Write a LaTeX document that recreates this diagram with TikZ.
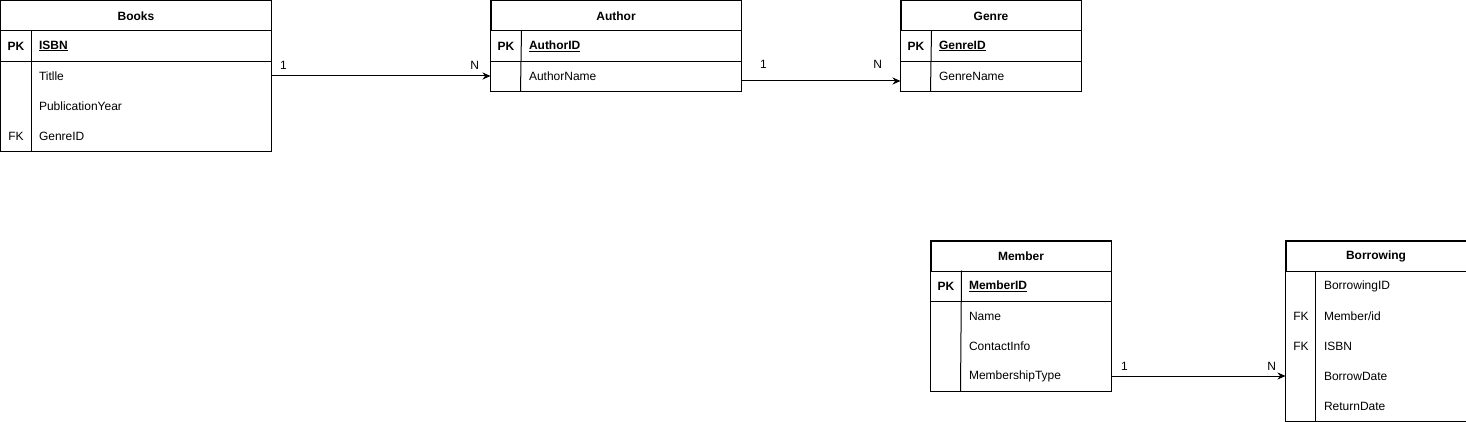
\documentclass[tikz,border=0pt]{standalone}
\usepackage{fontspec}
\setmainfont{Liberation Sans}
\usetikzlibrary{arrows.meta,positioning}
\newcommand\erfont{\fontsize{12}{14}\selectfont}

\tikzset{
  tbltitle/.style={draw,anchor=north west,minimum height=30pt,inner sep=0pt,font=\erfont\bfseries},
  keycell/.style={anchor=north west,minimum width=30pt,minimum height=30pt,inner sep=0pt},
  fieldcell/.style={anchor=north west,minimum height=30pt,inner xsep=8pt,inner ysep=0pt,align=left},
  rel/.style={-{Stealth[length=8pt,width=7pt]}},
  card/.style={inner sep=0pt}
}

\begin{document}
\begin{tikzpicture}[x=1pt,y=-1pt,line width=1pt,font=\erfont]
    \useasboundingbox (-0.5,-0.5) rectangle (1465.5,421.5);
    % Books
    \node[tbltitle,minimum width=270pt] (books) at (0,0){Books};
    \node[keycell] (books-pk) at (0,30){\textbf{PK}};
    \node[fieldcell,text width=224pt] (books-id) at (30,30){\underline{\textbf{ISBN}}};
    \foreach \f [count=\i] in {Titlle,PublicationYear,GenreID}{\node[fieldcell,text width=224pt] (books-f\i) at (30,30+30*\i){\f};}
    \node[keycell] (books-fk) at (0,120){FK};
    \draw (books.north west) rectangle (books-f3.south east);
    \draw (books-pk.south west)--(books-id.south east);
    \draw (books-pk.north east)--(books-fk.south east);
    % Author
    \node[tbltitle,minimum width=250pt] (author) at (490,0){Author};
    \node[keycell] (author-pk) at (490,30){\textbf{PK}};
    \node[fieldcell,text width=204pt] (author-id) at (520,30){\underline{\textbf{AuthorID}}};
    \node[fieldcell,text width=204pt] (author-f1) at (520,60){AuthorName};
    \draw (author.north west) rectangle (author-f1.south east);
    \draw (author-pk.south west)--(author-id.south east);
    \draw (author-pk.north east)--(author-f1.south west);
    % Genre
    \node[tbltitle,minimum width=180pt] (genre) at (900,0){Genre};
    \node[keycell] (genre-pk) at (900,30){\textbf{PK}};
    \node[fieldcell,text width=134pt] (genre-id) at (930,30){\underline{\textbf{GenreID}}};
    \node[fieldcell,text width=134pt] (genre-f1) at (930,60){GenreName};
    \draw (genre.north west) rectangle (genre-f1.south east);
    \draw (genre-pk.south west)--(genre-id.south east);
    \draw (genre-pk.north east)--(genre-f1.south west);
    % Member
    \node[tbltitle,minimum width=180pt] (member) at (930,240){Member};
    \node[keycell] (member-pk) at (930,270){\textbf{PK}};
    \node[fieldcell,text width=134pt] (member-id) at (960,270){\underline{\textbf{MemberID}}};
    \foreach \f [count=\i] in {Name,ContactInfo,MembershipType}{\node[fieldcell,text width=134pt] (member-f\i) at (960,270+30*\i){\f};}
    \draw (member.north west) rectangle (member-f3.south east);
    \draw (member-pk.south west)--(member-id.south east);
    \draw (member-pk.north east)--(member-f3.south west);
    % Borrowing
    \node[tbltitle,minimum width=180pt] (borrow) at (1285,240){Borrowing};
    \foreach \f [count=\i] in {BorrowingID,Member/id,ISBN,BorrowDate,ReturnDate}{\node[fieldcell,text width=134pt] (borrow-f\i) at (1315,240+30*\i){\f};}
    \node[keycell] (borrow-fk1) at (1285,300){FK};
    \node[keycell] (borrow-fk2) at (1285,330){FK};
    \draw (borrow.north west) rectangle (borrow-f5.south east);
    \draw (borrow-f1.north west)--(borrow-f5.south west);
    % relations
    \draw[rel] (books-f1.east)--node[card,pos=0,anchor=west,xshift=8pt,yshift=11pt]{1} node[card,pos=1,anchor=east,xshift=-11pt,yshift=11pt]{N} (author-f1.west -| author.west);
    \draw[rel] ([yshift=-5pt]author-f1.east)--node[card,pos=0,anchor=west,xshift=18pt,yshift=17pt]{1} node[card,pos=1,anchor=east,xshift=-18pt,yshift=17pt]{N} ([yshift=-5pt]genre-f1.west -| genre.west);
    \draw[rel] (member-f3.east)--node[card,pos=0,anchor=west,xshift=9pt,yshift=10pt]{1} node[card,pos=1,anchor=east,xshift=-9pt,yshift=10pt]{N} (borrow-f4.west -| borrow.west);
  \end{tikzpicture}
\end{document}
